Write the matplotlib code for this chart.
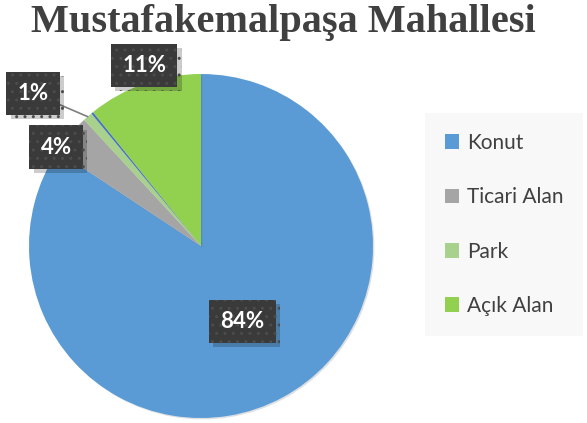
import matplotlib.pyplot as plt
import matplotlib.patheffects as pe
from matplotlib.patches import Patch
import numpy as np

# slice values (small dark-blue sliver between Park and Açık Alan has no legend entry)
categories = ['Konut', 'Ticari Alan', 'Park', '', 'Açık Alan']
values = [84.3, 3.8, 0.9, 0.2, 10.8]
colors = ['#5B9BD5', '#A5A5A5', '#A9D18E', '#4472C4', '#92D050']
pct_labels = ['84%', '4%', '1%', '', '11%']

plt.rcParams['font.family'] = ['Lato', 'DejaVu Sans']

fig = plt.figure(figsize=(5.87, 4.23), dpi=100)
ax = fig.add_axes([29 / 587, 5 / 423, 344 / 587, 344 / 423])

wedges, _ = ax.pie(values, colors=colors, startangle=90, counterclock=False,
                   radius=1, wedgeprops=dict(linewidth=0))
for w in wedges:
    w.set_path_effects([pe.SimplePatchShadow(offset=(1, -1), alpha=0.15), pe.Normal()])
ax.set_xlim(-1, 1)
ax.set_ylim(-1, 1)

# label placement: (radius, angle offset in degrees) per slice
label_pos = [(0.5, 0.5), (1.02, 6), (1.32, 6.5), None, (1.1, -2)]
box = dict(boxstyle='square,pad=0.5', facecolor='#3A3A3A', edgecolor='#4C4C4C',
           hatch='..', linewidth=0)
for i, w in enumerate(wedges):
    if not pct_labels[i]:
        continue
    mid = np.deg2rad((w.theta1 + w.theta2) / 2)
    r, off = label_pos[i]
    a = mid + np.deg2rad(off)
    xt, yt = r * np.cos(a), r * np.sin(a)
    if i == 2:
        t = ax.annotate(pct_labels[i], xy=(np.cos(mid), np.sin(mid)), xytext=(xt, yt),
                        ha='center', va='center', fontsize=16, fontweight='bold',
                        color='white', bbox=box,
                        arrowprops=dict(arrowstyle='-', color='#7F7F7F', lw=1.2,
                                        shrinkA=0, shrinkB=0))
    else:
        t = ax.text(xt, yt, pct_labels[i], ha='center', va='center', fontsize=16,
                    fontweight='bold', color='white', bbox=box)
    t.get_bbox_patch().set_path_effects([
        pe.SimplePatchShadow(offset=(3, -3), shadow_rgbFace='black', alpha=0.2),
        pe.Normal()])

fig.suptitle('Mustafakemalpaşa Mahallesi', x=0.483, y=0.99, fontsize=29,
             fontweight='bold', family='Liberation Serif', color='#404040')

handles = [Patch(facecolor=colors[i], label=categories[i]) for i in [0, 1, 2, 4]]
leg = fig.legend(handles=handles, loc='upper left', bbox_to_anchor=(425 / 587, 1 - 113 / 423),
                 frameon=True, facecolor='#F7F7F7', edgecolor='none', fancybox=False,
                 fontsize=15, handlelength=0.7, handleheight=0.7, handletextpad=0.35,
                 labelspacing=1.65, borderpad=0.95, borderaxespad=0)
for txt in leg.get_texts():
    txt.set_color('#404040')

fig.savefig('out.png', dpi=100)
